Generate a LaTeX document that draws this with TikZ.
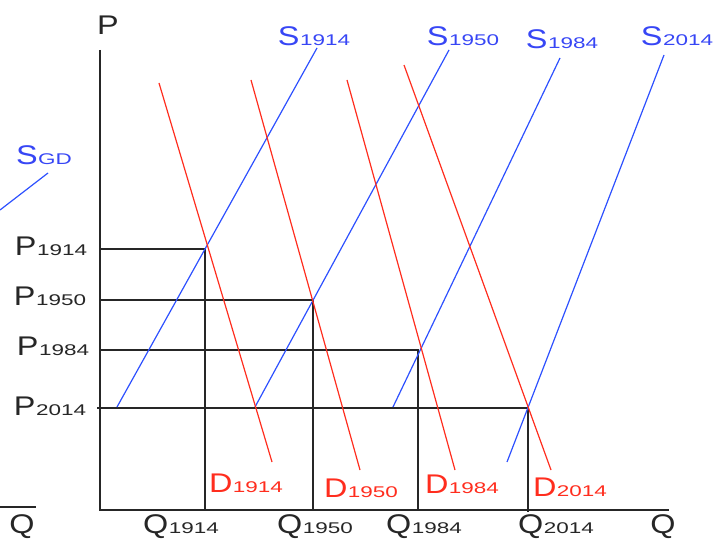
\documentclass[tikz,border=0pt]{standalone}
\usepackage{fontspec}
\setmainfont{Liberation Sans}[FakeStretch=1.2]
\newfontfamily\subfam{Liberation Sans}[FakeStretch=1.45]
\begin{document}
\begin{tikzpicture}[x=1pt,y=-1pt,
  ax/.style={line width=1.5pt,black!85},
  guide/.style={line width=1.2pt,black!85},
  sup/.style={line width=1.2pt,color=supblue},
  dem/.style={line width=1.2pt,color=demred},
  lbl/.style={anchor=base,inner sep=0pt,font=\fontsize{27}{27}\selectfont},
  slbl/.style={lbl,text=lblblue},
  dlbl/.style={lbl,text=demred},
  klbl/.style={lbl,text=black!85}]
\definecolor{supblue}{RGB}{45,80,255}
\definecolor{lblblue}{RGB}{55,70,245}
\definecolor{demred}{RGB}{255,45,30}
\newcommand{\ix}[2]{#1{\subfam\fontsize{15.5}{15.5}\selectfont\kern0.5pt #2}}
\useasboundingbox (0,0) rectangle (717,540);
% axes
\coordinate (O) at (100,510);
\coordinate (Ptop) at (100,50);
\coordinate (Qend) at (669,510);
\draw[ax] (Ptop) -- (O) -- (Qend);
\node[klbl] (Plab) at (108,35) {P};
\node[klbl] (Qlab) at (663,533) {Q};
% stray left marks
\coordinate (qa) at (0,507);
\coordinate (qb) at (36,507);
\draw[guide] (qa) -- (qb);
\node[klbl] (Qleft) at (22,533) {Q};
\coordinate (ga) at (0,210);
\coordinate (gb) at (48,173);
\draw[sup] (ga) -- (gb);
\node[slbl] (SGD) at (44,165) {\ix{S}{GD}};
% equilibria
\coordinate (E1) at (205,249);
\coordinate (E2) at (313,300);
\coordinate (E3) at (418,350);
\coordinate (E4) at (528,408);
\coordinate (PA1) at (100,249);
\coordinate (PA2) at (100,300);
\coordinate (PA3) at (100,350);
\coordinate (PA4) at (97,408);
\coordinate (QA1) at (205,510);
\coordinate (QA2) at (313,510);
\coordinate (QA3) at (418,510);
\coordinate (QA4) at (528,512);
\draw[guide] (PA1) -- (E1) -- (QA1);
\draw[guide] (PA2) -- (E2) -- (QA2);
\draw[guide] (PA3) -- (E3) -- (QA3);
\draw[guide] (PA4) -- (E4) -- (QA4);
% supply curves
\coordinate (s1a) at (117,407); \coordinate (s1b) at (317,48);
\coordinate (s2a) at (255,407); \coordinate (s2b) at (449,50);
\coordinate (s3a) at (393,407); \coordinate (s3b) at (560,58);
\coordinate (s4a) at (507,462); \coordinate (s4b) at (664,55);
\draw[sup] (s1a) -- (s1b);
\draw[sup] (s2a) -- (s2b);
\draw[sup] (s3a) -- (s3b);
\draw[sup] (s4a) -- (s4b);
% demand curves
\coordinate (d1a) at (159,83);  \coordinate (d1b) at (272,462);
\coordinate (d2a) at (251,80);  \coordinate (d2b) at (360,470);
\coordinate (d3a) at (347,80);  \coordinate (d3b) at (455,470);
\coordinate (d4a) at (404,65);  \coordinate (d4b) at (551,470);
\draw[dem] (d1a) -- (d1b);
\draw[dem] (d2a) -- (d2b);
\draw[dem] (d3a) -- (d3b);
\draw[dem] (d4a) -- (d4b);
% labels
\node[slbl] (S1) at (314,46) {\ix{S}{1914}};
\node[slbl] (S2) at (463,46) {\ix{S}{1950}};
\node[slbl] (S3) at (562,49) {\ix{S}{1984}};
\node[slbl] (S4) at (677,46) {\ix{S}{2014}};
\node[dlbl] (D1) at (246,492) {\ix{D}{1914}};
\node[dlbl] (D2) at (361,497) {\ix{D}{1950}};
\node[dlbl] (D3) at (462,493) {\ix{D}{1984}};
\node[dlbl] (D4) at (570,496) {\ix{D}{2014}};
\node[klbl] (P1) at (51,255) {\ix{P}{1914}};
\node[klbl] (P2) at (50,305) {\ix{P}{1950}};
\node[klbl] (P3) at (53,355) {\ix{P}{1984}};
\node[klbl] (P4) at (50,415) {\ix{P}{2014}};
\node[klbl] (Q1) at (181,533) {\ix{Q}{1914}};
\node[klbl] (Q2) at (315,533) {\ix{Q}{1950}};
\node[klbl] (Q3) at (424,533) {\ix{Q}{1984}};
\node[klbl] (Q4) at (556,533) {\ix{Q}{2014}};
\end{tikzpicture}
\end{document}
